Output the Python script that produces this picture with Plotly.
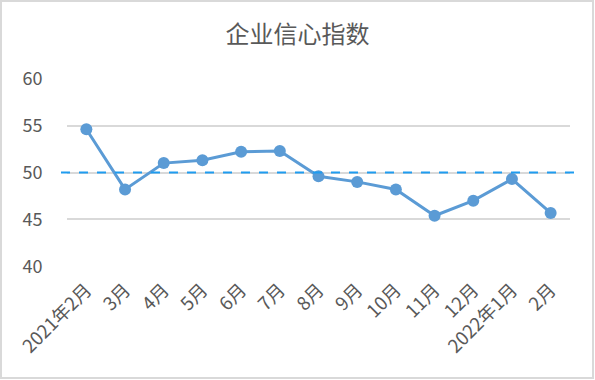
import plotly.graph_objects as go

months = ["2021年2月", "3月", "4月", "5月", "6月", "7月", "8月", "9月", "10月",
          "11月", "12月", "2022年1月", "2月"]
values = [54.6, 48.2, 51.0, 51.3, 52.2, 52.3, 49.6, 49.0, 48.2, 45.4, 47.0, 49.3, 45.7]
threshold = 50
y_ticks = [40, 45, 50, 55, 60]

W, H = 595, 380
ML, MR, MT, MB = 67, 25, 78, 113
pw, ph = W - ML - MR, H - MT - MB
pad = 0.06  # tiny range pad so the edge gridlines are drawn

xs = list(range(len(months)))
font_family = "Noto Sans CJK SC, Open Sans, sans-serif"

fig = go.Figure()
fig.add_trace(go.Scatter(
    x=xs, y=values, mode="lines+markers",
    line=dict(color="#5b9bd5", width=3),
    marker=dict(color="#5b9bd5", size=12),
    cliponaxis=False, showlegend=False, hoverinfo="x+y"))

# dashed reference line (slightly extends beyond the plot area as in the reference)
fig.add_shape(type="line", xref="paper", yref="y",
              x0=-6 / pw, x1=1 + 8 / pw, y0=threshold, y1=threshold,
              line=dict(color="#1e9cf0", width=2, dash="dash"), layer="above")

# outer border of the chart
fig.add_shape(type="rect", xref="paper", yref="paper",
              x0=-(ML - 1) / pw, x1=1 + (MR - 2) / pw,
              y0=-(MB - 2) / ph, y1=1 + (MT - 1) / ph,
              line=dict(color="#d9d9d9", width=2), layer="below")

fig.update_layout(
    width=W, height=H,
    margin=dict(l=ML, r=MR, t=MT, b=MB),
    paper_bgcolor="white", plot_bgcolor="white",
    font=dict(family=font_family, color="#595959", size=18),
    title=dict(text="企业信心指数", x=0.5, xref="container", xanchor="center",
               y=1 - 35 / H, yanchor="middle",
               font=dict(size=24, color="#595959", family=font_family)),
    xaxis=dict(range=[-0.5, len(months) - 0.5], tickmode="array", tickvals=xs,
               ticktext=months, tickangle=-45, showgrid=False, zeroline=False,
               showline=False, ticks="outside", ticklen=4,
               tickcolor="rgba(0,0,0,0)",
               tickfont=dict(size=18.5, color="#595959")),
    yaxis=dict(range=[min(y_ticks) - pad, max(y_ticks) + pad], tickvals=y_ticks,
               showgrid=True, gridcolor="#d9d9d9", gridwidth=1.5, zeroline=False,
               showline=False, ticks="outside", ticklen=20,
               tickcolor="rgba(0,0,0,0)",
               tickfont=dict(size=18, color="#595959")),
)

fig.write_html("out.html", post_script="document.body.style.margin='0';",
               config={"displayModeBar": False})
